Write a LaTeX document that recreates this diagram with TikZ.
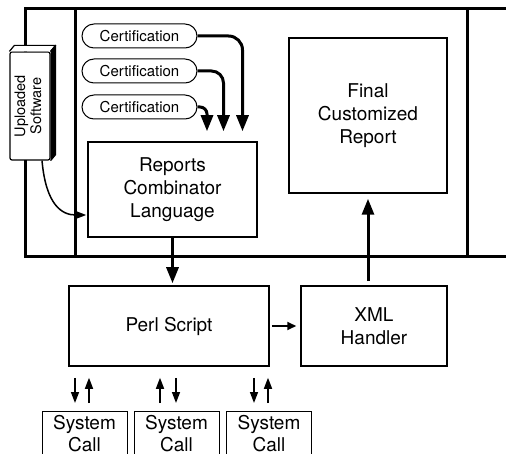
\documentclass[tikz,border=0pt]{standalone}
\usepackage{fontspec}
\setmainfont{TeX Gyre Heros}
\usetikzlibrary{arrows.meta}

\begin{document}
\begin{tikzpicture}[
    x=1pt, y=-1pt,
    % Стиль для рамки: толстая линия
    frame/.style={line width=3pt, line join=miter},
    % Стиль для блоков: прямоугольник, белый фон
    block/.style={rectangle, draw, line width=1.5pt, fill=white, align=center,
        inner sep=0pt, font=\fontsize{19}{23}\selectfont},
    % Стиль для сертификатов: скругленный прямоугольник
    cert/.style={rectangle, draw, rounded corners=12pt, line width=1pt, fill=white,
        minimum width=115pt, minimum height=24pt, inner sep=0pt,
        font=\fontsize{15}{18}\selectfont},
    % Стиль для системных вызовов
    syscall/.style={rectangle, draw, line width=1pt, fill=white, align=center,
        minimum width=85pt, minimum height=44pt, inner sep=0pt, anchor=north,
        font=\fontsize{19}{22}\selectfont},
    % Стиль для загруженного ПО
    usbox/.style={rectangle, draw, rounded corners=2pt, line width=1.2pt, fill=white,
        minimum width=40pt, minimum height=108pt, inner sep=0pt,
        font=\fontsize{14.5}{16}\selectfont},
    % Стили для стрелок
    bigarrow/.style={line width=3pt, -{Triangle[width=12pt,length=16pt]}},
    smallarrow/.style={line width=1.5pt, -{Triangle[width=8pt,length=11pt]}}
]
    \useasboundingbox (0,0) rectangle (506,454);

    % --- Рамка ---
    \draw[frame] (506,9) -- (25,9) -- (25,257) -- (506,257);
    \draw[frame] (75,9) -- (75,257);
    \draw[frame] (467,9) -- (467,257);

    % --- Загруженное ПО (книжка) ---
    \node[usbox] (us) at (30,106)
        {\rotatebox{90}{\begin{tabular}{@{}c@{}}Uploaded\\Software\end{tabular}}};
    \draw[line width=1.2pt, fill=white, line join=round]
        (us.north west) -- ++(5,-6) -- ([shift={(5,-6)}]us.north east) -- (us.north east);
    \draw[line width=1.2pt, fill=black, line join=round]
        (us.north east) -- ++(5,-6) -- ([shift={(5,-6)}]us.south east) -- (us.south east);

    % --- Сертификаты ---
    \node[cert] (cert1) at (139.5,36) {Certification};
    \node[cert] (cert2) at (139.5,71) {Certification};
    \node[cert] (cert3) at (139.5,107) {Certification};

    % --- Блоки ---
    \node[block, minimum width=169pt, minimum height=95pt] (rcl) at (172.5,189.5)
        {Reports\\Combinator\\Language};
    \node[block, minimum width=158pt, minimum height=155pt] (final) at (368,115.5)
        {Final\\Customized\\Report};
    \node[block, minimum width=200pt, minimum height=80pt] (perl) at (169,326) {Perl Script};
    \node[block, minimum width=146pt, minimum height=80pt] (xml) at (374,326) {XML\\Handler};

    % --- Системные вызовы ---
    \node[syscall] (sc1) at (84.5,411) {System\\Call};
    \node[syscall] (sc2) at (176.5,411) {System\\Call};
    \node[syscall] (sc3) at (269,411) {System\\Call};

    % --- Стрелки от сертификатов ---
    \draw[bigarrow, rounded corners=14pt] (cert1.east) -| ([xshift=70pt, yshift=10pt]rcl.north);
    \draw[bigarrow, rounded corners=12pt] (cert2.east) -| ([xshift=51pt, yshift=10pt]rcl.north);
    \draw[bigarrow, rounded corners=7pt] (cert3.east) -| ([xshift=34.5pt, yshift=10pt]rcl.north);

    % --- Остальные стрелки ---
    \draw[smallarrow, shorten >=1pt] ([xshift=12pt]us.south)
        .. controls +(4,45) and +(-25,0) .. ([yshift=-25.5pt]rcl.west);
    \draw[bigarrow, shorten >=2pt] (rcl.south) -- (rcl.south |- perl.north);
    \draw[bigarrow, shorten <=4pt, shorten >=5pt] (final.south |- xml.north) -- (final.south);
    \draw[line width=2pt, -{Triangle[width=8pt,length=9pt]}, shorten <=2pt, shorten >=4pt]
        (perl.east) -- (xml.west);

    % --- Вызовы (вниз и вверх) ---
    \draw[smallarrow, shorten <=11pt, shorten >=8pt] ([xshift=-9.5pt]sc1.north |- perl.south) -- ([xshift=-9.5pt]sc1.north);
    \draw[smallarrow, shorten <=8pt, shorten >=11pt] ([xshift=4.5pt]sc1.north) -- ([xshift=4.5pt]sc1.north |- perl.south);
    \draw[smallarrow, shorten <=8pt, shorten >=11pt] ([xshift=-16.5pt]sc2.north) -- ([xshift=-16.5pt]sc2.north |- perl.south);
    \draw[smallarrow, shorten <=11pt, shorten >=8pt] ([xshift=-0.5pt]sc2.north |- perl.south) -- ([xshift=-0.5pt]sc2.north);
    \draw[smallarrow, shorten <=11pt, shorten >=8pt] ([xshift=-15pt]sc3.north |- perl.south) -- ([xshift=-15pt]sc3.north);
    \draw[smallarrow, shorten <=8pt, shorten >=11pt] ([xshift=-1pt]sc3.north) -- ([xshift=-1pt]sc3.north |- perl.south);

\end{tikzpicture}
\end{document}
